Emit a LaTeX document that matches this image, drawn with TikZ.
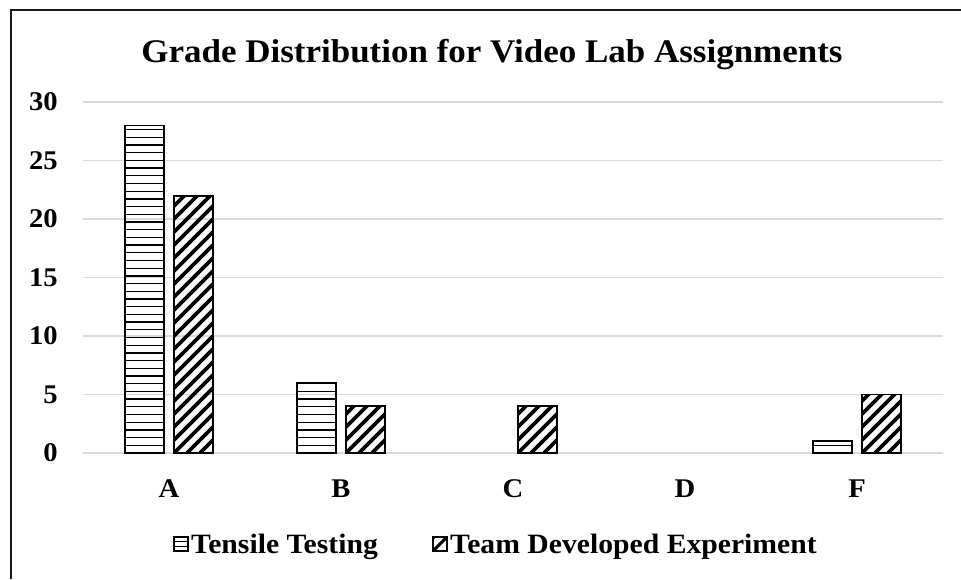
\documentclass[tikz,border=0pt]{standalone}
\usepackage{fontspec}
\setmainfont{Liberation Serif}
\newfontfamily\widefont[FakeStretch=1.06]{Liberation Serif}
\definecolor{gridc}{HTML}{D9D9D9}
\definecolor{framec}{HTML}{1A1A1A}
\tikzset{
  lbl/.style={inner sep=0pt, font=\widefont\fontsize{27}{27}\selectfont\bfseries},
  leg/.style={inner sep=0pt, font=\widefont\fontsize{28}{28}\selectfont\bfseries},
  ttl/.style={inner sep=0pt, font=\widefont\fontsize{33}{33}\selectfont\bfseries},
  gridline/.style={gridc, line width=1.8pt},
  barframe/.style={black, line width=1.8pt},
  hatchline/.style={black, line width=1.3pt},
  stripe/.style={black, line width=3.8pt},
}
\newcommand\tensbar[2]{%
  \pgfmathsetmacro\ytop{453-#2*11.7}%
  \begin{scope}
    \clip (#1-44,453) rectangle (#1-5,\ytop);
    \foreach \k in {1,...,44} \draw[hatchline] (#1-44,{453-\k*7.7}) -- (#1-5,{453-\k*7.7});
  \end{scope}
  \draw[barframe] (#1-44,453) rectangle (#1-5,\ytop);
}
\newcommand\teambar[2]{%
  \pgfmathsetmacro\ytop{453-#2*11.7}%
  \begin{scope}
    \clip (#1+5,453) rectangle (#1+44,\ytop);
    \foreach \k in {-30,...,4} \draw[stripe] ({#1+5+\k*13},453) -- ++(400,-400);
  \end{scope}
  \draw[barframe] (#1+5,453) rectangle (#1+44,\ytop);
}
\begin{document}
\begin{tikzpicture}[x=1pt,y=-1pt]
\useasboundingbox (0,0) rectangle (961,579);
\fill[white] (0,0) rectangle (961,579);
\draw[framec, line width=2pt] (11,579) -- (11,10) -- (961,10);
% title
\node[ttl, anchor=base] (title) at (492,62) {Grade Distribution for Video Lab Assignments};
% grid and ticks
\foreach \v in {0,5,10,15,20,25,30} {
  \draw[gridline] (83,{453-\v*11.7}) -- (943,{453-\v*11.7});
  \node[lbl, anchor=east] (tick\v) at (58,{453-\v*11.7}) {\v};
}
% bars
\tensbar{169}{28}
\teambar{169}{22}
\tensbar{341}{6}
\teambar{341}{4}
\teambar{513}{4}
\tensbar{857}{1}
\teambar{857}{5}
% categories
\node[lbl, anchor=base] (catA) at (169,497) {A};
\node[lbl, anchor=base] (catB) at (341,497) {B};
\node[lbl, anchor=base] (catC) at (513,497) {C};
\node[lbl, anchor=base] (catD) at (685,497) {D};
\node[lbl, anchor=base] (catF) at (857,497) {F};
% legend
\begin{scope}
  \clip (174,537) rectangle (188,551);
  \foreach \k in {1,2} \draw[black, line width=1.2pt] (174,{537+\k*4.7}) -- (188,{537+\k*4.7});
\end{scope}
\draw[black, line width=1.4pt] (174,537) rectangle (188,551);
\node[leg, anchor=base west] (legTens) at (191,553) {Tensile Testing};
\begin{scope}
  \clip (433,537) rectangle (447,551);
  \draw[black, line width=3pt] (433,551) -- (447,537);
  \draw[black, line width=3pt] (420,551) -- (434,537);
\end{scope}
\draw[black, line width=1.4pt] (433,537) rectangle (447,551);
\node[leg, anchor=base west] (legTeam) at (450,553) {Team Developed Experiment};
\end{tikzpicture}
\end{document}
